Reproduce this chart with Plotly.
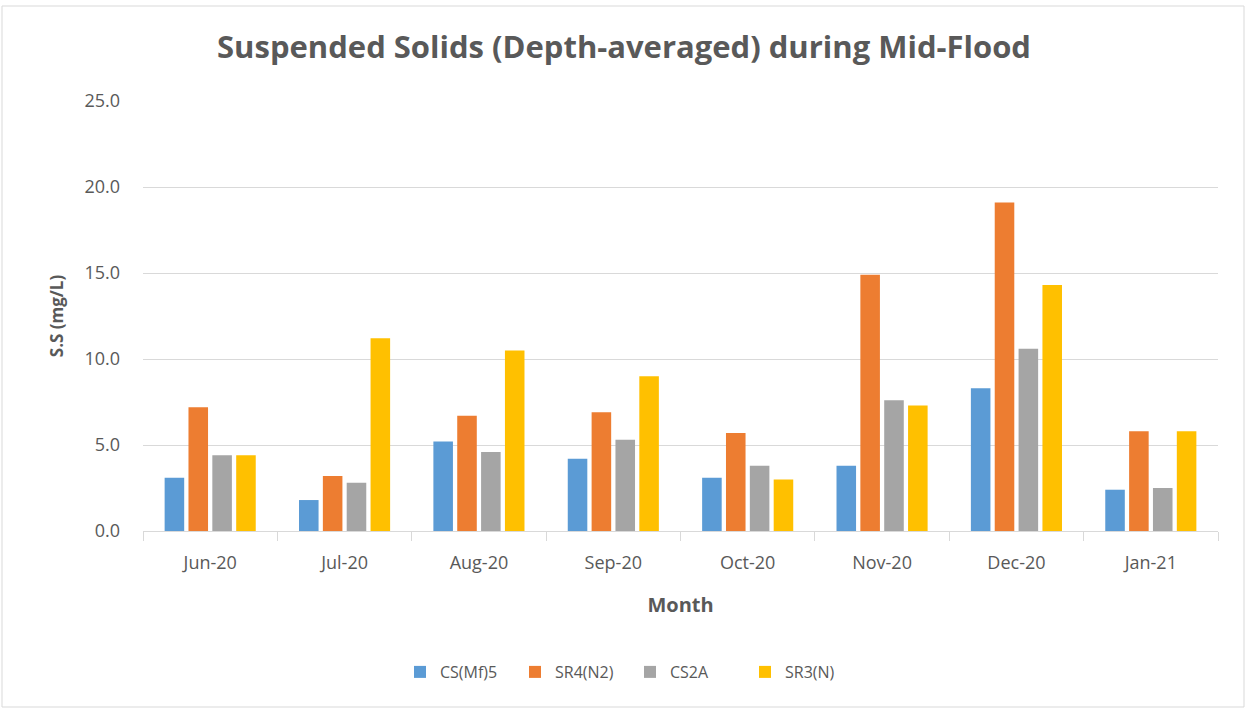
import plotly.graph_objects as go

months = ["Jun-20", "Jul-20", "Aug-20", "Sep-20", "Oct-20", "Nov-20", "Dec-20", "Jan-21"]
cs_mf5 = [3.1, 1.8, 5.2, 4.2, 3.1, 3.8, 8.3, 2.4]
sr4_n2 = [7.2, 3.2, 6.7, 6.9, 5.7, 14.9, 19.1, 5.8]
cs2a = [4.4, 2.8, 4.6, 5.3, 3.8, 7.6, 10.6, 2.5]
sr3_n = [4.4, 11.2, 10.5, 9.0, 3.0, 7.3, 14.3, 5.8]
y_ticks = [0, 5, 10, 15, 20, 25]
y_tick_labels = ["0.0", "5.0", "10.0", "15.0", "20.0", "25.0"]

series = [
    ("CS(Mf)5", cs_mf5, "#5B9BD5"),
    ("SR4(N2)", sr4_n2, "#ED7D31"),
    ("CS2A", cs2a, "#A5A5A5"),
    ("SR3(N)", sr3_n, "#FFC000"),
]

fig = go.Figure()
for name, vals, color in series:
    fig.add_trace(go.Bar(x=months, y=vals, name=name, marker_color=color,
                         marker_line_width=0))

W, H = 1248, 711
L, R, T, B = 143, 30, 101, 180
pw, ph = W - L - R, H - T - B

font_family = "Open Sans, Lato, sans-serif"
fig.update_layout(
    width=W, height=H,
    paper_bgcolor="white", plot_bgcolor="white",
    margin=dict(l=L, r=R, t=T, b=B, autoexpand=False),
    barmode="group", bargap=0.29, bargroupgap=0.18,
    font=dict(family=font_family, color="#595959", size=16),
    title=dict(text="<b>Suspended Solids (Depth-averaged) during Mid-Flood</b>",
               x=0.5, xanchor="center", y=1 - 47 / H, yanchor="middle",
               font=dict(size=31, color="#595959", family=font_family)),
    legend=dict(orientation="h", x=(630 - L) / pw, xanchor="center",
                y=(T + ph - 672) / ph,
                yanchor="middle", font=dict(size=16, color="#595959"),
                traceorder="normal", itemwidth=30, entrywidth=70),
    showlegend=True,
)
fig.update_xaxes(
    title=dict(text="<b>Month</b>", font=dict(size=20, color="#595959"), standoff=25),
    showline=True, linecolor="#D9D9D9", linewidth=1,
    ticks="outside", tickson="boundaries", ticklen=9, tickcolor="#D9D9D9",
    tickfont=dict(size=18, color="#595959"), ticklabelstandoff=15,
    showgrid=False,
)
fig.update_yaxes(
    title=dict(text="<b>S.S (mg/L)</b>", font=dict(size=17, color="#595959"), standoff=16),
    range=[0, 25], tickvals=y_ticks, ticktext=y_tick_labels,
    showgrid=True, gridcolor="#D9D9D9", gridwidth=1,
    zeroline=False, ticks="", tickfont=dict(size=18, color="#595959"),
    ticklabelstandoff=22,
)
fig.add_shape(type="rect", xref="paper", yref="paper",
              x0=(2 - L) / pw, x1=(1244 - L) / pw,
              y0=(T + ph - 707) / ph, y1=(T + ph - 6) / ph,
              line=dict(color="#D9D9D9", width=1), fillcolor="rgba(0,0,0,0)")

fig.write_html("out.html", config={"displayModeBar": False},
               post_script="document.body.style.margin='0';")
